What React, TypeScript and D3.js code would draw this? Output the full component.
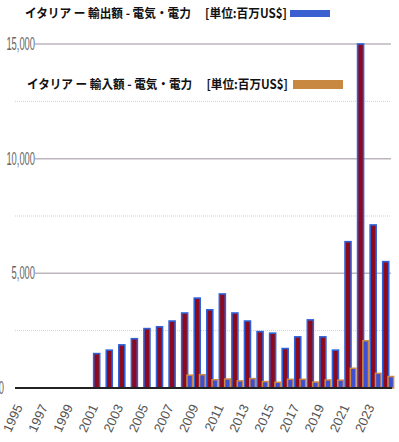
import React from "react";
import * as d3 from "d3";

// Italy - electricity, million US$
const years = d3.range(1995, 2025);
const exportValues = [
  0, 0, 0, 0, 0, 0, 1500, 1650, 1880, 2150, 2590, 2670, 2920, 3270, 3920,
  3410, 4100, 3270, 2920, 2460, 2390, 1720, 2230, 2970, 2230, 1650, 6380,
  15000, 7110, 5510,
];
const importValues = [
  0, 0, 0, 0, 0, 0, 0, 0, 0, 0, 0, 0, 0, 560, 580, 360, 390, 310, 410, 280,
  250, 380, 380, 260, 350, 340, 860, 2060, 640, 500,
];
const majorTicks = [5000, 10000, 15000];
const minorTicks = [2500, 7500, 12500];
const exportTitle = "イタリア ー 輸出額 - 電気・電力　 [単位:百万US$]";
const importTitle = "イタリア ー 輸入額 - 電気・電力　 [単位:百万US$]";

const W = 399;
const H = 442;

const App = () => {
  const x = d3.scaleBand<number>().domain(years).range([15, 392]).padding(0);
  const y = d3.scaleLinear().domain([0, 15000]).range([388, 44]);
  const cx = (yr: number) => (x(yr) as number) + x.bandwidth() / 2;
  const fmt = d3.format(",");

  const labelYears = years.filter((yr) => (yr - 1995) % 2 === 0);

  return (
    <svg
      width={W}
      height={H}
      style={{ position: "absolute", left: 0, top: 0, background: "#fff" }}
    >
      {/* minor dotted gridlines */}
      {minorTicks.map((t) => (
        <line
          key={"mi" + t}
          x1={15}
          x2={391}
          y1={y(t)}
          y2={y(t)}
          stroke="#cfcfcf"
          strokeWidth={1}
          strokeDasharray="1,1"
        />
      ))}
      {/* major gridlines */}
      {majorTicks.map((t) => (
        <line
          key={"ma" + t}
          x1={35}
          x2={391}
          y1={y(t)}
          y2={y(t)}
          stroke="#bdb6bd"
          strokeWidth={1.5}
        />
      ))}
      {/* y tick labels */}
      {[0, ...majorTicks].map((t) => (
        <text
          key={"yl" + t}
          transform={`translate(${t === 0 ? 4 : 35},${y(t) + 6}) scale(0.52,1)`}
          textAnchor="end"
          fontFamily="Liberation Sans, Arial, sans-serif"
          fontSize={18}
          fill="#666"
        >
          {fmt(t)}
        </text>
      ))}

      {/* export bars */}
      {years.map((yr, i) =>
        exportValues[i] > 0 ? (
          <rect
            key={"ex" + yr}
            x={cx(yr) - 3}
            y={y(exportValues[i])}
            width={6}
            height={y(0) - y(exportValues[i])}
            fill="#8c0a1c"
            stroke="#2f62da"
            strokeWidth={1.6}
          />
        ) : null
      )}
      {/* import bars */}
      {years.map((yr, i) =>
        importValues[i] > 0 ? (
          <rect
            key={"im" + yr}
            x={cx(yr) + 2.3}
            y={y(importValues[i])}
            width={5.6}
            height={y(0) - y(importValues[i])}
            fill="#3d4fd2"
            stroke="#cc8a45"
            strokeWidth={1.5}
          />
        ) : null
      )}

      {/* baseline */}
      <line x1={15} x2={392} y1={y(0)} y2={y(0)} stroke="#222" strokeWidth={2} />

      {/* x labels */}
      {labelYears.map((yr) => (
        <text
          key={"xl" + yr}
          transform={`translate(${cx(yr) + 1.7},${407}) rotate(-65)`}
          textAnchor="end"
          fontFamily="Liberation Sans, Arial, sans-serif"
          fontSize={13}
          fill="#555"
        >
          {yr}
        </text>
      ))}

      {/* titles / legends */}
      <text
        x={25}
        y={18}
        textLength={262}
        lengthAdjust="spacingAndGlyphs"
        fontFamily="Noto Sans CJK JP, sans-serif"
        fontWeight="bold"
        fontSize={12.5}
        fill="#111"
        style={{ whiteSpace: "pre" }}
      >
        {exportTitle}
      </text>
      <rect x={290} y={10} width={40} height={7} fill="#3a5fd0" />
      <text
        x={27}
        y={89}
        textLength={261}
        lengthAdjust="spacingAndGlyphs"
        fontFamily="Noto Sans CJK JP, sans-serif"
        fontWeight="bold"
        fontSize={12.5}
        fill="#111"
        style={{ whiteSpace: "pre" }}
      >
        {importTitle}
      </text>
      <rect x={293} y={80} width={50} height={9} fill="#c98842" />
    </svg>
  );
};

export default App;
